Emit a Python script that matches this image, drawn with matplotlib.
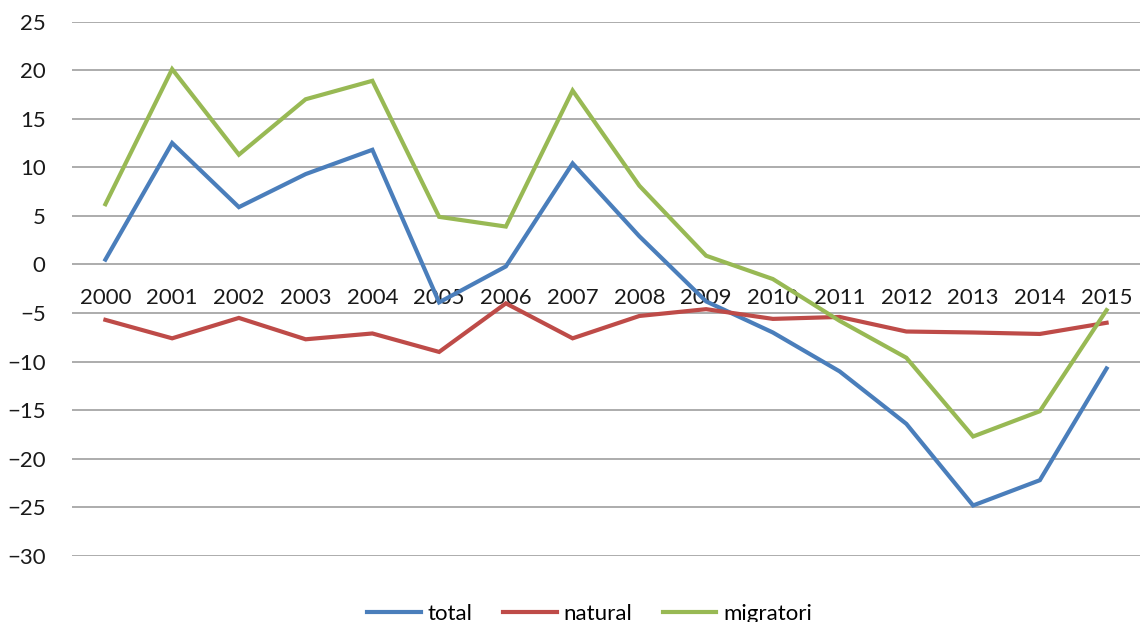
import matplotlib.pyplot as plt

years = [str(y) for y in range(2000, 2016)]
total = [0.5, 12.5, 5.9, 9.3, 11.8, -3.9, -0.2, 10.4, 2.9, -3.8, -7.0, -11.0, -16.4, -24.8, -22.2, -10.7]
natural = [-5.7, -7.6, -5.5, -7.7, -7.1, -9.0, -4.0, -7.6, -5.3, -4.6, -5.6, -5.4, -6.9, -7.0, -7.15, -6.0]
migratori = [6.2, 20.1, 11.3, 17.0, 18.9, 4.9, 3.9, 17.9, 8.1, 0.9, -1.5, -5.8, -9.6, -17.7, -15.1, -4.7]

plt.rcParams['font.family'] = ['Lato', 'DejaVu Sans']

fig = plt.figure(figsize=(11.45, 6.22), dpi=100)
ax = fig.add_axes([0.0629, 0.1061, 0.9327, 0.8593])

x = range(len(years))
ax.plot(x, total, color='#4a7ebb', lw=3, label='total', solid_joinstyle='miter')
ax.plot(x, natural, color='#be4b48', lw=3, label='natural', solid_joinstyle='miter')
ax.plot(x, migratori, color='#98b954', lw=3, label='migratori', solid_joinstyle='miter')

ax.set_ylim(-30, 25)
ax.set_yticks(range(-30, 26, 5))
ax.set_xlim(-0.5, len(years) - 0.5)
ax.set_xticks(list(x))
ax.set_xticklabels(years)

for s in ['top', 'right', 'left']:
    ax.spines[s].set_visible(False)
# category labels sit on the zero line
ax.spines['bottom'].set_position(('data', 0))
ax.spines['bottom'].set_visible(False)

ax.yaxis.grid(True, color='#a6a6a6', lw=1.3)
ax.set_axisbelow(True)
ax.tick_params(axis='x', length=0, pad=17, labelsize=16, colors='#1a1a1a')
ax.tick_params(axis='y', length=0, pad=19, labelsize=16, colors='#1a1a1a')

fig.legend(loc='lower center', ncol=3, frameon=False, fontsize=16,
           handlelength=2.4, columnspacing=1.4, handletextpad=0.3,
           bbox_to_anchor=(0.515, -0.035))

fig.savefig('out.png', dpi=100)
